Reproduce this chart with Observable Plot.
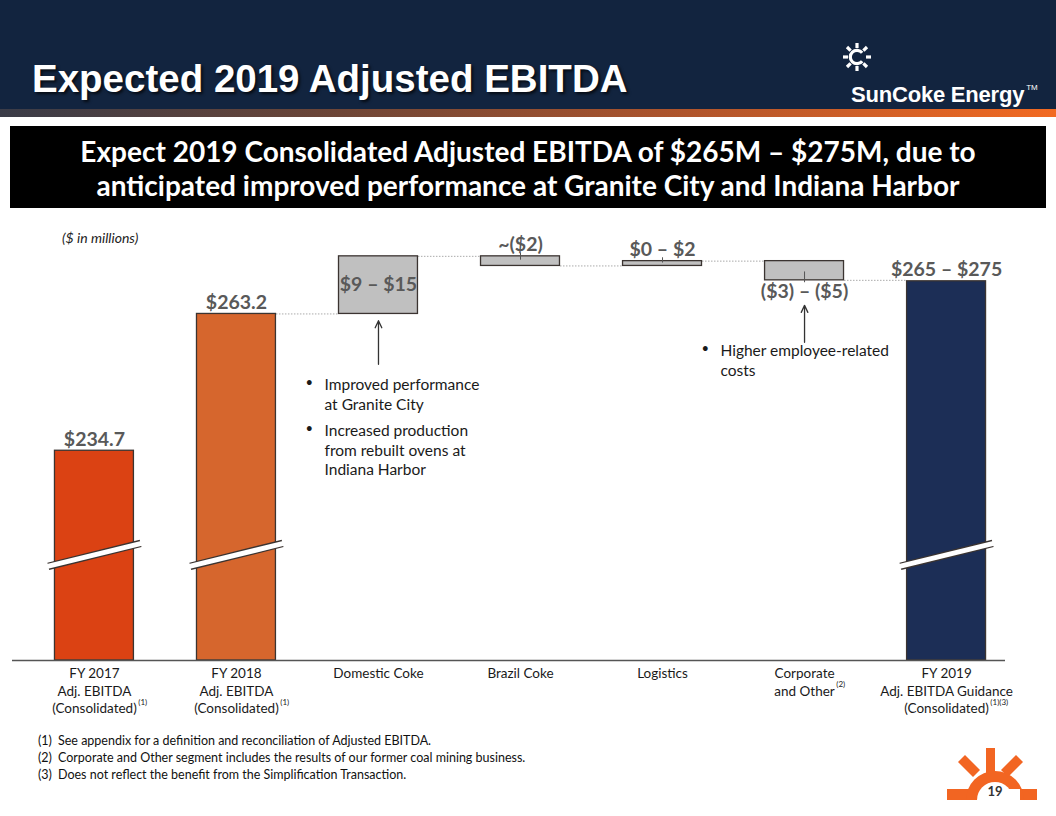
<!DOCTYPE html>
<html>
<head>
<meta charset="utf-8">
<script src="https://cdn.jsdelivr.net/npm/d3@7"></script>
<script src="https://cdn.jsdelivr.net/npm/@observablehq/plot@0.6"></script>
<style>
  html, body { margin: 0; padding: 0; }
  body { width: 1056px; height: 816px; position: relative; overflow: hidden; background: #fff; font-family: Lato, "Open Sans", sans-serif; }
  #header { position: absolute; left: 0; top: 0; width: 1056px; height: 109px; background: #12243f; }
  #stripe { position: absolute; left: 0; top: 109px; width: 1056px; height: 8px;
    background: linear-gradient(to right, #3a3c48 0%, #6a4538 30%, #b0552c 65%, #f26a22 100%); }
  #title { position: absolute; left: 32px; top: 57px; font: bold 38.5px "Liberation Sans", Arial, sans-serif; color: #fff;
    text-shadow: 2px 2px 3px rgba(0,0,0,0.7); white-space: nowrap; }
  #brand { position: absolute; left: 851px; top: 82px; font: bold 22px "Liberation Sans", Arial, sans-serif; color: #fff; white-space: nowrap; letter-spacing: -0.2px; }
  #brand sup { font-size: 8px; font-weight: normal; vertical-align: 12px; margin-left: 2px; }
  #sun { position: absolute; left: 840px; top: 40px; }
  #banner { position: absolute; left: 10px; top: 126px; width: 1036px; height: 82px; background: #000; color: #fff;
    font: bold 28px Lato, sans-serif; text-align: center; line-height: 34px; padding-top: 8px; box-sizing: border-box; white-space: nowrap; }
  #units { position: absolute; left: 62px; top: 229px; font: italic 14px Lato, sans-serif; color: #222; }
  #chart { position: absolute; left: 0; top: 220px; }
  #notes { position: absolute; left: 38px; top: 732px; font: 12.5px Lato, sans-serif; color: #111; line-height: 17px; }
  #notes div span { display: inline-block; width: 20px; }
  #pagelogo { position: absolute; left: 940px; top: 745px; }
</style>
</head>
<body>
<div id="header"></div>
<div id="stripe"></div>
<div id="title">Expected 2019 Adjusted EBITDA</div>
<svg id="sun" width="34" height="34" viewBox="-17 -17 34 34">
  <g stroke="#fff" stroke-width="3.2" fill="none">
    <path d="M 5.2 -4.2 A 6.7 6.7 0 1 0 5.2 4.2"/>
    <line x1="0" y1="-9" x2="0" y2="-14"/>
    <line x1="0" y1="9" x2="0" y2="14"/>
    <line x1="-9" y1="0" x2="-14" y2="0"/>
    <line x1="9" y1="0" x2="14" y2="0"/>
    <line x1="-6.4" y1="-6.4" x2="-10" y2="-10"/>
    <line x1="6.4" y1="-6.4" x2="10" y2="-10"/>
    <line x1="-6.4" y1="6.4" x2="-10" y2="10"/>
    <line x1="6.4" y1="6.4" x2="10" y2="10"/>
  </g>
</svg>
<div id="brand">SunCoke Energy<sup>TM</sup></div>
<div id="banner">Expect 2019 Consolidated Adjusted EBITDA of $265M – $275M, due to<br>anticipated improved performance at Granite City and Indiana Harbor</div>
<div id="units">($ in millions)</div>
<div id="chart"></div>
<div id="notes">
  <div><span>(1)</span>See appendix for a definition and reconciliation of Adjusted EBITDA.</div>
  <div><span>(2)</span>Corporate and Other segment includes the results of our former coal mining business.</div>
  <div><span>(3)</span>Does not reflect the benefit from the Simplification Transaction.</div>
</div>
<svg id="pagelogo" width="100" height="60" viewBox="940 745 100 60">
  <g fill="#f26522">
    <rect x="947" y="789" width="30" height="11"/>
    <rect x="1015" y="789" width="22" height="11"/>
    <path d="M 966 800 A 29 29 0 0 1 1024 800 Z"/>
    <rect x="986" y="748" width="9" height="26"/>
    <polygon points="958,762 965,755 980,770 973,777"/>
    <polygon points="1023,762 1016,755 1001,770 1008,777"/>
  </g>
  <path d="M 977 800 A 18 18 0 0 1 1013 800 Z" fill="#fff"/>
  <rect x="1008" y="789" width="12" height="12" fill="#fff"/>
  <text x="995" y="796" text-anchor="middle" font-family="Lato, sans-serif" font-weight="bold" font-size="13" fill="#333">19</text>
</svg>

<script>
// ---- data ----
const categories = [
  "FY 2017\nAdj. EBITDA\n(Consolidated)",
  "FY 2018\nAdj. EBITDA\n(Consolidated)",
  "Domestic Coke",
  "Brazil Coke",
  "Logistics",
  "Corporate\nand Other",
  "FY 2019\nAdj. EBITDA Guidance\n(Consolidated)"
];
const footRefs = ["(1)", "(1)", "", "", "", "(2)", "(1)(3)"];
const kinds = ["total", "total", "delta", "delta", "delta", "delta", "total"];
const values = [234.7, 263.2, 12, -2, 1, -4, 270];
const valueLabels = ["$234.7", "$263.2", "$9 – $15", "~($2)", "$0 – $2", "($3) – ($5)", "$265 – $275"];
const barColors = ["#db4213", "#d6662d", "#c0c0c0", "#c0c0c0", "#c0c0c0", "#c0c0c0", "#1c2e56"];
const axisFloor = 191;
const breakLow = 210.6, breakHigh = 215.4;

const rangeTickCats = [3, 4, 5];
const rangeTickLo = [274.4, 273.8, 269.7];
const rangeTickHi = [275.9, 274.9, 271.95];

const arrowCats = [2, 5];
const arrowFrom = [252.7, 257.3];
const arrowTo = [261.8, 265.0];

const noteX = [1.62, 1.62, 4.408];
const noteY = [250.2, 240.6, 257.25];
const noteText = [
  "Improved performance\nat Granite City",
  "Increased production\nfrom rebuilt ovens at\nIndiana Harbor",
  "Higher employee-related\ncosts"
];

// ---- derived table ----
let running = 0;
const rows = categories.map((c, i) => {
  let y1, y2;
  if (kinds[i] === "total") { y1 = axisFloor; y2 = values[i]; running = values[i]; }
  else { y1 = running; y2 = running + values[i]; running = y2; }
  return { i, category: c, kind: kinds[i], y1, y2, top: Math.max(y1, y2), bottom: Math.min(y1, y2),
           label: valueLabels[i], color: barColors[i], end: running, ref: footRefs[i] };
});
const hw = 0.278; // half bar width in category units
const connectors = rows.slice(1, 6).map(r => ({ x1: r.i + hw, x2: r.i + 1 - hw, y: r.end }));
const totals = rows.filter(r => r.kind === "total");
const placement = r => r.kind === "delta" && r.y2 - r.y1 > 5 ? "inside"
                     : (r.kind === "delta" && r.y2 - r.y1 < -3 ? "below" : "above");
const ticks = rangeTickCats.map((c, k) => ({ x: c, lo: rangeTickLo[k], hi: rangeTickHi[k] }));
const arrows = arrowCats.map((c, k) => ({ x: c, from: arrowFrom[k], to: arrowTo[k] }));
const notes = noteText.map((t, k) => ({ x: noteX[k], y: noteY[k], text: t }));

// superscript offsets measured from label widths
const ctx = document.createElement("canvas").getContext("2d");
const axisFont = 13.5, axisLH = 1.3;
ctx.font = `${axisFont}px Lato`;
const sups = rows.filter(r => r.ref).map(r => {
  const lines = r.category.split("\n");
  const last = lines[lines.length - 1];
  const w = ctx.measureText(last).width;
  return { i: r.i, ref: r.ref, dx: w / 2 + 1.5, line: lines.length - 1 };
});

const chart = Plot.plot({
  width: 1056,
  height: 500,
  marginLeft: 12,
  marginRight: 51,
  marginTop: 20,
  marginBottom: 60,
  style: { fontFamily: "Lato, sans-serif", background: "transparent", overflow: "visible" },
  x: { type: "linear", domain: [-0.577, 6.415], axis: null },
  y: { domain: [axisFloor, 278.5], axis: null },
  marks: [
    Plot.link(connectors, { x1: "x1", x2: "x2", y1: "y", y2: "y", stroke: "#aaaaaa", strokeWidth: 1, strokeDasharray: "1.5,1.5" }),
    Plot.rect(rows, { x1: d => d.i - hw, x2: d => d.i + hw, y1: "bottom", y2: "top", fill: "color", stroke: "#3b3431", strokeWidth: 1.3 }),
    Plot.link(totals, { x1: d => d.i - hw - 0.047, x2: d => d.i + hw + 0.047, y1: () => breakLow, y2: () => breakHigh, stroke: "#3b3431", strokeWidth: 7.6 }),
    Plot.link(totals, { x1: d => d.i - hw - 0.06, x2: d => d.i + hw + 0.06, y1: () => breakLow - 0.05, y2: () => breakHigh + 0.05, stroke: "#fff", strokeWidth: 5 }),
    Plot.ruleY([axisFloor], { stroke: "#555", strokeWidth: 1.6 }),
    Plot.ruleX(ticks, { x: "x", y1: "lo", y2: "hi", stroke: "#555", strokeWidth: 1 }),
    Plot.text(rows.filter(r => placement(r) === "above"), { x: "i", y: "top", text: "label", lineAnchor: "bottom", dy: -5, fontSize: 19.5, fontWeight: "bold", fill: "#595959" }),
    Plot.text(rows.filter(r => placement(r) === "inside"), { x: "i", y: d => (d.top + d.bottom) / 2, text: "label", lineAnchor: "middle", fontSize: 19.5, fontWeight: "bold", fill: "#595959" }),
    Plot.text(rows.filter(r => placement(r) === "below"), { x: "i", y: "bottom", text: "label", lineAnchor: "top", dy: 4, fontSize: 19.5, fontWeight: "bold", fill: "#595959" }),
    Plot.arrow(arrows, { x1: "x", x2: "x", y1: "from", y2: "to", stroke: "#333", strokeWidth: 1.3, headLength: 9, headAngle: 50 }),
    Plot.text(notes, { x: "x", y: "y", text: "text", textAnchor: "start", lineAnchor: "top", fontSize: 15.5, lineHeight: 1.26, fill: "#1a1a1a" }),
    Plot.text(notes, { x: "x", y: "y", text: () => "•", textAnchor: "start", lineAnchor: "top", dx: -19, dy: 1, fontSize: 13, fill: "#1a1a1a" }),
    Plot.text(rows, { x: "i", y: () => axisFloor, text: "category", lineAnchor: "top", dy: 5, fontSize: axisFont, lineHeight: axisLH, fill: "#1a1a1a" }),
    Plot.text(sups, { x: "i", y: () => axisFloor, text: "ref", textAnchor: "start", lineAnchor: "top",
      fontSize: 8, fill: "#1a1a1a",
      render: (index, scales, values, dims, ctx2, next) => {
        const g = next(index, scales, values, dims, ctx2);
        d3.select(g).selectAll("text").each(function(_, k) {
          const s = sups[index[k]];
          const t = d3.select(this);
          const tr = t.attr("transform") || "";
          t.attr("transform", `${tr} translate(${s.dx},${5 + s.line * axisFont * axisLH - 1.5})`);
        });
        return g;
      }
    })
  ]
});
document.getElementById("chart").appendChild(chart);
</script>
</body>
</html>
